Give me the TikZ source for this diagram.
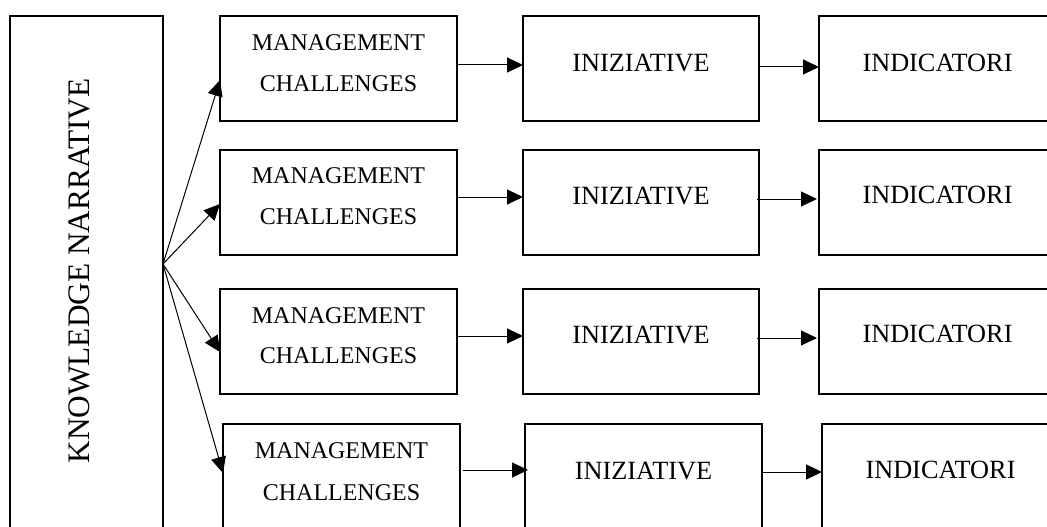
\documentclass[tikz,border=0pt]{standalone}
\usepackage{fontspec}
\setmainfont{Liberation Serif}
\usetikzlibrary{arrows.meta}
\tikzset{
  box/.style={draw, line width=1.8pt, rectangle, anchor=north west,
              inner sep=0pt, outer sep=0pt, minimum width=237pt, minimum height=105pt},
  tallbox/.style={box, minimum height=140pt},
  conn/.style={line width=1pt, -{Triangle[length=16pt,width=15pt]}},
  mclabel/.style={anchor=base, inner sep=0pt, font=\fontsize{24}{28}\selectfont},
  steplabel/.style={anchor=base, inner sep=0pt, font=\fontsize{26.3}{30}\selectfont},
}
\begin{document}
\begin{tikzpicture}[x=1pt,y=-1pt]
\useasboundingbox (0,0) rectangle (1047,527);
\clip (0,0) rectangle (1047,527);

% narrative column
\node[box, minimum width=153pt, minimum height=560pt] (kn) at (10,16) {};
\node[rotate=90, anchor=base, inner sep=0pt, font=\fontsize{31.3}{36}\selectfont]
  (knt) at (89,271) {KNOWLEDGE NARRATIVE};
\coordinate (fan) at (kn.north east |- 0,264);

% management challenges
\node[box] (mc1) at (220,16) {};
\node[box] (mc2) at (220,150) {};
\node[box] (mc3) at (220,289) {};
\node[tallbox] (mc4) at (223,424) {};
\node[mclabel] (mc1a) at (338.5,50.5) {MANAGEMENT};
\node[mclabel] (mc1b) at (338.5,91.5) {CHALLENGES};
\node[mclabel] (mc2a) at (338.5,183.5) {MANAGEMENT};
\node[mclabel] (mc2b) at (338.5,224) {CHALLENGES};
\node[mclabel] (mc3a) at (338.5,323.5) {MANAGEMENT};
\node[mclabel] (mc3b) at (338.5,363.5) {CHALLENGES};
\node[mclabel] (mc4a) at (341.5,458.5) {MANAGEMENT};
\node[mclabel] (mc4b) at (341.5,500) {CHALLENGES};

% initiatives
\node[box, minimum width=236pt] (in1) at (523,16) {};
\node[box, minimum width=236pt] (in2) at (523,150) {};
\node[box, minimum width=236pt] (in3) at (523,289) {};
\node[tallbox, minimum width=237pt] (in4) at (525,424) {};
\node[steplabel] (in1t) at (641,71.5) {INIZIATIVE};
\node[steplabel] (in2t) at (641,204) {INIZIATIVE};
\node[steplabel] (in3t) at (641,343.5) {INIZIATIVE};
\node[steplabel] (in4t) at (643.5,479) {INIZIATIVE};

% indicators
\node[box] (id1) at (819,16) {};
\node[box] (id2) at (819,150) {};
\node[box] (id3) at (819,289) {};
\node[tallbox] (id4) at (822,424) {};
\node[steplabel] (id1t) at (937.5,71) {INDICATORI};
\node[steplabel] (id2t) at (937.5,203) {INDICATORI};
\node[steplabel] (id3t) at (937.5,342) {INDICATORI};
\node[steplabel] (id4t) at (940.5,478) {INDICATORI};

% fan of arrows from the narrative
\draw[conn] (fan) -- (mc1.west |- 0,80);
\draw[conn] (fan) -- (mc2.west |- 0,204);
\draw[conn] (fan) -- (mc3.west |- 0,352);
\draw[conn] (fan) -- (mc4.west |- 0,473);

% challenges -> initiatives
\draw[conn] (mc1.east |- 0,65) -- (in1.west |- 0,65);
\draw[conn] (mc2.east |- 0,197) -- (in2.west |- 0,197);
\draw[conn] (mc3.east |- 0,336) -- (in3.west |- 0,336);
\draw[conn] ([xshift=3pt]mc4.east |- 0,470) -- ([xshift=3pt]in4.west |- 0,470);

% initiatives -> indicators
\draw[conn] (in1.east |- 0,67) -- (id1.west |- 0,67);
\draw[conn] ([xshift=-2pt]in2.east |- 0,199) -- ([xshift=-2pt]id2.west |- 0,199);
\draw[conn] ([xshift=-2pt]in3.east |- 0,338) -- ([xshift=-2pt]id3.west |- 0,338);
\draw[conn] (in4.east |- 0,472) -- (id4.west |- 0,472);
\end{tikzpicture}
\end{document}
